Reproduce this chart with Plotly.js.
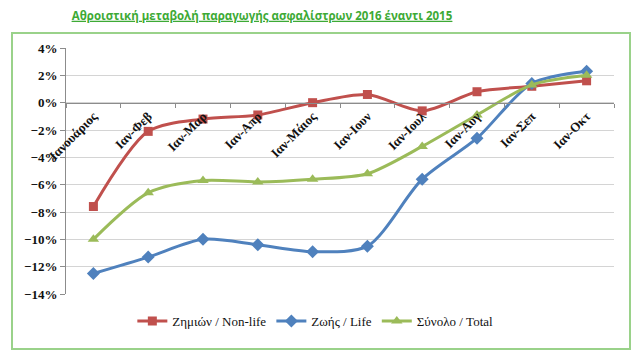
<!DOCTYPE html>
<html>
<head>
<meta charset="utf-8">
<script src="https://cdn.plot.ly/plotly-3.0.1.min.js"></script>
<style>
html,body{margin:0;padding:0;background:#fff;}
#chart .xtick text, #chart .ytick text { font-family: "Liberation Serif", "Times New Roman", serif !important; font-weight: 700 !important; }
#chart text.legendtext { font-family: "Liberation Serif", "Times New Roman", serif !important; font-weight: 400 !important; }
#chart text.gtitle { font-weight: 700 !important; text-decoration: underline !important; }
</style>
</head>
<body>
<div id="chart" style="width:640px;height:352px"></div>
<script>
const categories = ['Ιανουάριος','Ιαν-Φεβ','Ιαν-Μαρ','Ιαν-Απρ','Ιαν-Μάιος','Ιαν-Ιουν','Ιαν-Ιουλ','Ιαν-Αυγ','Ιαν-Σεπ','Ιαν-Οκτ'];
const nonLife = [-7.6, -2.1, -1.2, -0.9, 0.0, 0.6, -0.6, 0.8, 1.2, 1.6];
const life    = [-12.5, -11.3, -10.0, -10.4, -10.9, -10.5, -5.6, -2.6, 1.4, 2.3];
const total   = [-10.0, -6.6, -5.7, -5.8, -5.6, -5.2, -3.2, -0.9, 1.3, 2.0];
const seriesNames = ['Ζημιών / Non-life', 'Ζωής / Life', 'Σύνολο / Total'];

const SERIF = 'Liberation Serif, serif';

function tr(name, y, color, symbol, size) {
  return {
    x: categories, y: y, name: name, type: 'scatter', mode: 'lines+markers',
    line: {color: color, width: 3, shape: 'spline', smoothing: 0.8},
    marker: {color: color, symbol: symbol, size: size},
    hoverinfo: 'skip'
  };
}
const data = [
  tr(seriesNames[0], nonLife, '#C0504D', 'square', 9),
  tr(seriesNames[1], life, '#4F81BD', 'diamond', 10),
  tr(seriesNames[2], total, '#9BBB59', 'triangle-up', 10)
];

const L = 66, R = 26, T = 48, B = 58, W = 640, H = 352;
const pw = W - L - R, ph = H - T - B;
const layout = {
  width: W, height: H,
  margin: {l: L, r: R, t: T, b: B},
  paper_bgcolor: '#fff', plot_bgcolor: '#fff',
  font: {family: SERIF, size: 13, color: '#111'},
  title: {
    text: '<b><u>Αθροιστική μεταβολή παραγωγής ασφαλίστρων 2016 έναντι 2015</u></b>',
    font: {family: 'Open Sans', size: 11.5, color: '#3DAA35'},
    x: 262 / W, xanchor: 'center', xref: 'container', y: 0.955, yanchor: 'middle', yref: 'container'
  },
  xaxis: {
    type: 'category', range: [-0.5, 9.5],
    anchor: 'free', position: 14/18,
    showgrid: false, zeroline: false,
    showline: true, linecolor: '#8c8c8c', linewidth: 1,
    ticks: 'outside', tickson: 'boundaries', ticklen: 4, tickcolor: '#8c8c8c',
    tickangle: -45,
    tickfont: {family: SERIF, size: 13, weight: 700},
    fixedrange: true
  },
  yaxis: {
    range: [-14, 4], dtick: 2, tick0: 0, ticksuffix: '%',
    showgrid: true, gridcolor: '#d4d4d4', gridwidth: 1,
    zeroline: false,
    showline: true, linecolor: '#8c8c8c', linewidth: 1,
    ticks: 'outside', ticklen: 5, tickcolor: '#8c8c8c',
    tickfont: {family: SERIF, size: 13, weight: 700},
    fixedrange: true
  },
  showlegend: true,
  legend: {
    orientation: 'h', x: 0.455, xanchor: 'center', y: -0.11, yanchor: 'middle',
    font: {family: SERIF, size: 13},
    bgcolor: 'rgba(0,0,0,0)', itemwidth: 30, traceorder: 'normal'
  },
  shapes: [{
    type: 'rect', xref: 'paper', yref: 'paper',
    x0: (12 - L) / pw, x1: (630 - L) / pw,
    y0: (H - B - 349) / ph, y1: (H - B - 33) / ph,
    line: {color: '#9ad28a', width: 2}, fillcolor: 'rgba(0,0,0,0)', layer: 'below'
  }]
};
Plotly.newPlot('chart', data, layout, {displayModeBar: false});
</script>
</body>
</html>
